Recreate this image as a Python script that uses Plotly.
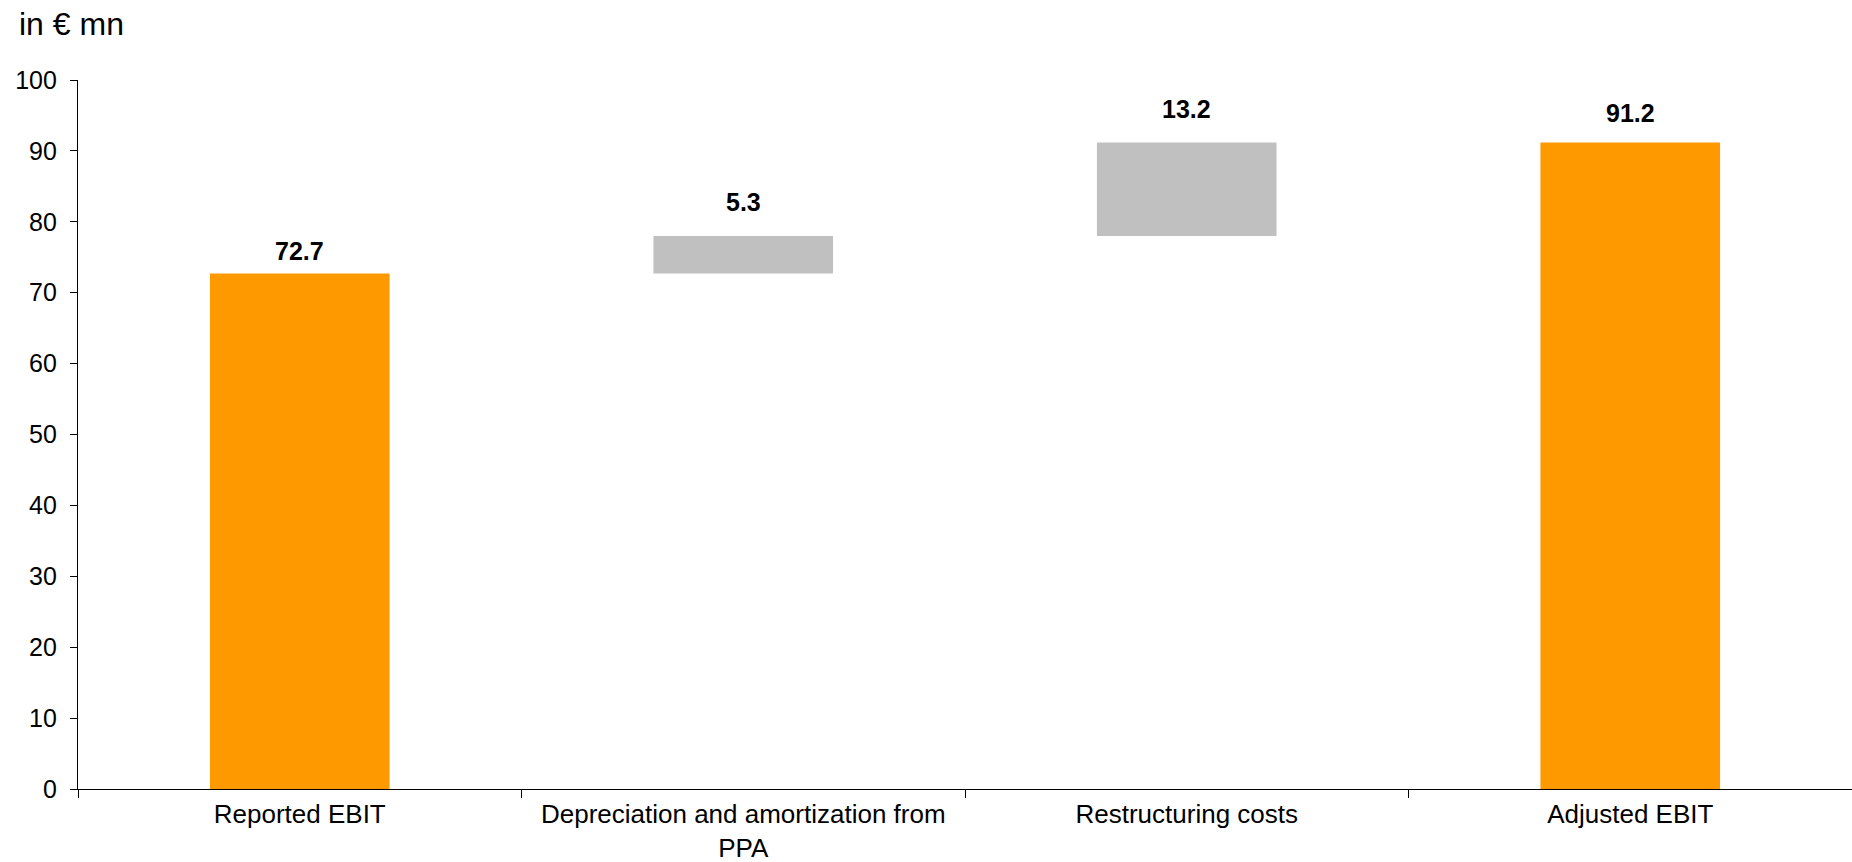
import plotly.graph_objects as go

# Bridge from reported to adjusted EBIT (in € mn)
categories = ["Reported EBIT", "Depreciation and amortization from<br>PPA",
              "Restructuring costs", "Adjusted EBIT"]
values = [72.7, 5.3, 13.2, 91.2]
measures = ["absolute", "relative", "relative", "total"]
y_ticks = [0, 10, 20, 30, 40, 50, 60, 70, 80, 90, 100]

ORANGE = "#FF9900"
GREY = "#C0C0C0"
FONT = "Liberation Sans, Arial, sans-serif"

fig = go.Figure(go.Waterfall(
    x=categories,
    y=values,
    measure=measures,
    width=0.405,
    increasing=dict(marker=dict(color=GREY)),
    decreasing=dict(marker=dict(color=GREY)),
    totals=dict(marker=dict(color=ORANGE)),
    connector=dict(visible=False),
    hoverinfo="x+y",
))

# value labels above each bar top
label_shift = [23, 34, 33, 29]
top = 0.0
for i, (cat, v, m) in enumerate(zip(categories, values, measures)):
    if m == "relative":
        top += v
    else:
        top = v
    fig.add_annotation(
        x=cat, y=top, xref="x", yref="y",
        text=f"<b>{v:.1f}</b>", showarrow=False,
        yanchor="middle", yshift=label_shift[i],
        font=dict(family=FONT, size=25, color="black"),
    )

fig.add_annotation(
    text="in € mn", xref="paper", yref="paper",
    x=0, y=1, xshift=-61, yshift=56, xanchor="left", yanchor="middle",
    showarrow=False, font=dict(family=FONT, size=32, color="black"),
)

fig.update_layout(
    width=1852, height=862,
    margin=dict(l=78, r=0, t=80, b=73),
    plot_bgcolor="white", paper_bgcolor="white",
    showlegend=False,
    font=dict(family=FONT, size=25, color="black"),
    xaxis=dict(
        type="category", range=[-0.5, 3.5], automargin=False,
        showline=True, linecolor="black", linewidth=1.3,
        ticks="outside", tickson="boundaries", ticklen=8, tickwidth=1.3,
        tickcolor="black", showgrid=False, zeroline=False,
        ticklabelstandoff=2,
        tickfont=dict(family=FONT, size=26, color="black"),
    ),
    yaxis=dict(
        range=[0, 100], tickvals=y_ticks, automargin=False,
        showline=True, linecolor="black", linewidth=1.3,
        ticks="outside", ticklen=7, tickwidth=1.3, tickcolor="black",
        showgrid=False, zeroline=False, ticklabelstandoff=8,
        tickfont=dict(family=FONT, size=25, color="black"),
    ),
)

fig.write_html("out.html")
